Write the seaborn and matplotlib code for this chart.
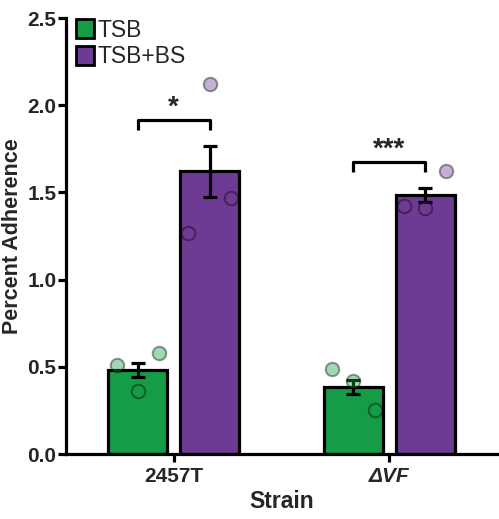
import numpy as np
import pandas as pd
import matplotlib
matplotlib.use("Agg")
import matplotlib.pyplot as plt
from matplotlib.patches import Patch
import seaborn as sns

# ---- data ----
strains = ["2457T", "ΔVF"]
conditions = ["TSB", "TSB+BS"]
mean_tsb = [0.48, 0.385]
mean_tsbbs = [1.62, 1.485]
sem_tsb = [0.04, 0.04]
sem_tsbbs = [0.145, 0.04]
reps_tsb = [[0.51, 0.36, 0.58], [0.49, 0.42, 0.25]]
reps_tsbbs = [[1.27, 2.12, 1.47], [1.42, 1.41, 1.62]]
sig_labels = ["*", "***"]
sig_heights = [1.915, 1.675]
yticks = [0.0, 0.5, 1.0, 1.5, 2.0, 2.5]

green = "#169b47"
purple = "#6e3a93"

sns.set_style("ticks")
plt.rcParams["font.family"] = ["Liberation Sans", "DejaVu Sans"]

df = pd.DataFrame({
    "Strain": strains * 2,
    "Condition": [conditions[0]] * 2 + [conditions[1]] * 2,
    "Mean": mean_tsb + mean_tsbbs,
})

fig = plt.figure(figsize=(4.99, 5.19), dpi=100)
ax = fig.add_axes([66 / 499, 65 / 519, 431 / 499, 436 / 519])

sns.barplot(data=df, x="Strain", y="Mean", hue="Condition", order=strains,
            hue_order=conditions, palette=[green, purple], saturation=1,
            errorbar=None, width=0.667, gap=0.18, edgecolor="black",
            linewidth=2.3, legend=False, ax=ax, zorder=2)

means = [mean_tsb, mean_tsbbs]
sems = [sem_tsb, sem_tsbbs]
reps = [reps_tsb, reps_tsbbs]
colors = [green, purple]
centers = {}
bar_conts = list(ax.containers)
for hi, cont in enumerate(bar_conts):
    for si, bar in enumerate(cont.patches):
        cx = bar.get_x() + bar.get_width() / 2
        bw = bar.get_width()
        centers[(hi, si)] = cx
        ax.errorbar(cx, means[hi][si], yerr=sems[hi][si], fmt="none",
                    ecolor="black", elinewidth=2.3, capsize=5, capthick=2.3,
                    zorder=3)
        offs = np.array([-0.36, 0.0, 0.36]) * bw
        ax.scatter(cx + offs, reps[hi][si], s=95, facecolor=colors[hi],
                   edgecolor="black", linewidth=1.4, alpha=0.4, zorder=4)

# significance brackets
for si in range(len(strains)):
    x1 = centers[(0, si)]
    x2 = centers[(1, si)]
    h = sig_heights[si]
    ax.plot([x1, x1, x2, x2], [h - 0.058, h, h, h - 0.058], color="black",
            lw=2.3, solid_capstyle="butt", zorder=5)
    ax.text((x1 + x2) / 2, h - 0.005, sig_labels[si], ha="center", va="bottom",
            fontsize=20, fontweight="bold")

ax.set_xlim(-0.5, 1.5)
ax.set_ylim(0, 2.5)
ax.set_yticks(yticks)
ax.set_yticklabels([f"{v:.1f}" for v in yticks], fontsize=15, fontweight="bold")
ax.set_xticks(range(len(strains)))
ax.set_xticklabels(strains, fontsize=15, fontweight="bold")
ax.get_xticklabels()[1].set_fontstyle("italic")
ax.set_xlabel("Strain", fontsize=16.5, fontweight="bold", labelpad=3)
ax.set_ylabel("Percent Adherence", fontsize=15.5, fontweight="bold", labelpad=3)

for side in ["top", "right"]:
    ax.spines[side].set_visible(False)
for side in ["left", "bottom"]:
    ax.spines[side].set_linewidth(2.3)
    ax.spines[side].set_color("black")
ax.tick_params(axis="both", width=2.3, length=6, color="black")
ax.tick_params(axis="x", pad=3)
ax.tick_params(axis="y", pad=1)

handles = [Patch(facecolor=green, edgecolor="black", linewidth=2.0),
           Patch(facecolor=purple, edgecolor="black", linewidth=2.0)]
ax.legend(handles, conditions, loc="upper left", bbox_to_anchor=(-0.015, 1.035),
          frameon=False, fontsize=16.5, handlelength=0.8, handleheight=0.9,
          handletextpad=0.15, labelspacing=0.15, borderaxespad=0.3)

fig.savefig("out.png", dpi=100)
